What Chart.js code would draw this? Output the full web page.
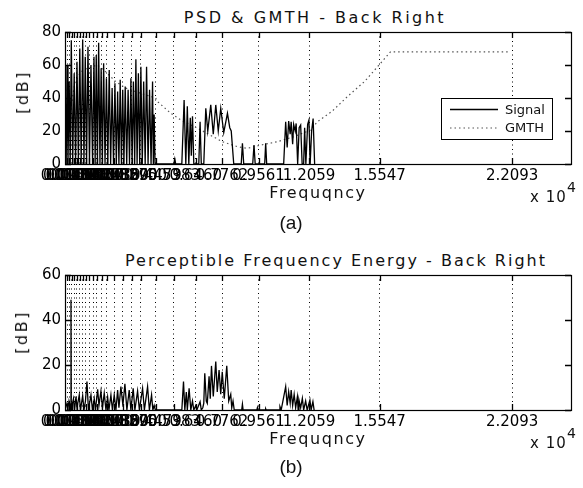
<!DOCTYPE html>
<html lang="ko">

<head>
    <meta charset="UTF-8">
    <title>PSD &amp; GMTH - Back Right</title>
    <style>
        body {
            margin: 0;
            background: #fff;
            width: 583px;
            height: 488px;
            position: relative;
            overflow: hidden;
            font-family: "DejaVu Sans", sans-serif;
            color: #111;
        }

        canvas {
            position: absolute;
            left: 0;
        }

        .txt {
            position: absolute;
            white-space: nowrap;
            line-height: 1;
        }

        .center {
            transform: translateX(-50%);
        }

        .ylab {
            transform: translate(-50%, -50%) rotate(-90deg);
            font-size: 16px;
            letter-spacing: 2.5px;
        }
    </style>
</head>

<body>
    <div class="txt center" style="left:315px; top:10px; font-size:16px; letter-spacing:2.5px;">PSD &amp; GMTH - Back Right</div>
    <canvas id="chartA" width="583" height="200" style="top:0px;"></canvas>
    <div class="txt ylab" style="left:23px; top:92px;">[dB]</div>
    <div class="txt center" style="left:318px; top:185px; font-size:16px; letter-spacing:1.6px;">Frequqncy</div>
    <div class="txt" style="left:530px; top:190px; font-size:15px; letter-spacing:1px;">x 10</div>
    <div class="txt" style="left:567px; top:180px; font-size:14px;">4</div>
    <div class="txt center" style="left:291px; top:213px; font-size:19px; font-family:'Liberation Sans', sans-serif;">(a)</div>

    <div class="txt center" style="left:336px; top:253px; font-size:16px; letter-spacing:2px;">Perceptible Frequency Energy - Back Right</div>
    <canvas id="chartB" width="583" height="200" style="top:240px;"></canvas>
    <div class="txt ylab" style="left:22px; top:332px;">[dB]</div>
    <div class="txt center" style="left:318px; top:431px; font-size:16px; letter-spacing:1.6px;">Frequqncy</div>
    <div class="txt" style="left:530px; top:436px; font-size:15px; letter-spacing:1px;">x 10</div>
    <div class="txt" style="left:567px; top:426px; font-size:14px;">4</div>
    <div class="txt center" style="left:291px; top:457px; font-size:19px; font-family:'Liberation Sans', sans-serif;">(b)</div>

    <script src="https://cdn.jsdelivr.net/npm/chart.js/dist/chart.umd.min.js"></script>
    <script>
        // band edges used as x ticks (Hz)
        const bandEdges = [100, 210, 330, 460, 590, 740, 870, 1030, 1200, 1400, 1580, 1810, 2070, 2430,
            2850, 3290, 3750, 4479, 5383, 6460, 7762, 9561, 12059, 15547, 22093];
        const yTicksA = [0, 20, 40, 60, 80];
        const yTicksB = [0, 20, 40, 60];
        const legendNames = ['Signal', 'GMTH'];

        // (a) signal PSD
        const sigAHz = [0, 25, 59, 99, 148, 207, 257, 311, 380, 454, 523, 592, 661, 730, 799, 873, 937, 1001, 1066,
            1135, 1209, 1283, 1362, 1431, 1490, 1544, 1603, 1662, 1727, 1786, 1845, 1909, 1978, 2047, 2116, 2185,
            2255, 2328, 2397, 2467, 2536, 2600, 2664, 2728, 2788, 2852, 2911, 2975, 3049, 3118, 3187, 3256, 3315,
            3379, 3443, 3502, 3562, 3626, 3690, 3749, 3818, 3887, 3961, 4030, 4104, 4178, 4252, 4326, 4366, 4405,
            4450,
            5380, 5426, 5470, 5772, 5885, 5969, 6043, 6117, 6191, 6240, 6299, 6364, 6610, 6674, 6734, 6857, 6956,
            7054, 7202, 7326, 7449, 7572, 7695, 7843, 8026, 8140, 8213, 8337, 8707, 8766, 8830, 9274, 9338, 9397,
            9866, 9915, 9965, 10804, 10903, 10977, 11051, 11125, 11174, 11248, 11297, 11372, 11421, 11495, 11569,
            11643, 11717, 11791, 11840, 11900, 11988, 12052, 12111, 12185, 12259, 12333];
        const sigADb = [0, 20, 0, 60, 0, 50, 0, 75, 0, 55, 0, 62, 0, 70, 0, 75.5, 0, 65, 0,
            71, 0, 60, 0, 65, 0, 66, 0, 73.5, 0, 58, 0, 61, 0, 52, 0, 57,
            0, 46, 0, 49, 0, 44, 0, 51, 0, 45, 0, 47, 0, 45, 0, 52, 0,
            50, 0, 63.5, 0, 55, 0, 59, 0, 50, 0, 59, 0, 45, 0, 50, 0, 30,
            0,
            0, 3, 0, 0, 38.8, 0, 35, 0, 28, 5, 29, 0, 0, 25.6, 0, 0, 33.7,
            20, 35.8, 18, 35.8, 20, 33.7, 19, 30.7, 22, 20, 0, 0, 12.5, 0, 0, 11.5, 0,
            0, 12.5, 0, 0, 25.6, 10, 26, 18, 25.6, 12, 24, 20, 24.6, 0, 22,
            23.6, 0, 0, 22, 0, 24, 26.6, 0, 20, 27.6, 0];

        // (a) global masking threshold
        const gmthHz = [100, 300, 500, 800, 1100, 1600, 2000, 2500, 3000, 3700, 4479, 4573, 5229, 5722, 6500,
            7100, 7779, 8519, 9013, 9669, 10493, 11297, 12135, 12466, 13200, 13946, 14800, 15588, 16081, 22001];
        const gmthDb = [45, 35, 50, 56, 58, 60, 56, 50, 46, 43, 40, 37.8, 30.7, 26.7, 22,
            18, 13.5, 10.5, 9.5, 11.5, 13.5, 16.5, 20.6, 25.6, 32, 40.8, 50, 61, 68, 68];

        // (b) perceptible energy
        const sigBHz = [0, 49, 99, 148, 197, 247, 285, 296, 310, 345, 419, 469, 543, 592, 705, 765, 873, 937, 1011,
            1085, 1159, 1283, 1357, 1445, 1505, 1613, 1677, 1776, 1850, 1939, 2023, 2106, 2171, 2269, 2343, 2432,
            2516, 2600, 2664, 2762, 2861, 2960, 3058, 3172, 3256, 3369, 3453, 3586, 3675, 3833, 3922, 4080, 4169,
            4277, 4341, 4405, 4464,
            5772, 5855, 5920, 5994, 6043, 6132, 6216, 6299, 6364, 6462, 6512, 6674, 6734, 6808, 6857, 6906, 6980,
            7030, 7118, 7177, 7237, 7326, 7449, 7523, 7612, 7695, 7769, 7868, 7992, 8090, 8189, 8238, 8302, 8361,
            8730, 8766, 8800, 9480, 9506, 9530, 9890, 9915, 9940,
            10580, 10621, 10681, 10903, 10977, 11051, 11125, 11174, 11248, 11322, 11396, 11480, 11520, 11560, 11643,
            11727, 11791, 11890, 11964, 12101, 12160, 12249, 12308];
        const sigBDb = [0, 0, 3, 1, 4, 2, 0, 49, 0, 2, 5, 0, 6, 1, 6.7, 0, 6.4, 0, 4,
            12.6, 0, 6.7, 0, 5, 0, 9.2, 2, 8.4, 1, 7.5, 0, 5.8, 0, 6.7, 0, 6.7,
            0, 8.9, 1, 10.4, 2, 11.6, 0, 8.9, 0, 9.6, 0, 8.4, 0, 9.6, 0, 10.4, 0,
            6.7, 0, 2, 0,
            0, 12.6, 0, 8, 0, 9.6, 0, 4, 0, 2, 0, 3.7, 0, 1, 3, 16.3, 4,
            3, 15, 5, 19.6, 6, 21.5, 8, 17.8, 7, 17, 5, 19.6, 4, 7, 1, 4, 0,
            0, 2.6, 0, 0, 1, 0, 0, 0.5, 0,
            0, 1.5, 0, 10.4, 2, 8.1, 3, 8.9, 2, 7, 1, 5.9, 0, 4.4, 1,
            5.2, 0, 4, 0, 4.4, 0, 3.7, 0];

        function toPoints(xs, ys) {
            return xs.map((x, i) => ({ x: x, y: ys[i] }));
        }

        const tickFont = { family: 'DejaVu Sans', size: 15 };

        // matlab style box, inner ticks and legend
        const boxPlugin = {
            id: 'boxPlugin',
            afterDatasetsDraw(chart, args, opts) {
                const ctx = chart.ctx;
                const a = chart.chartArea;
                const sx = chart.scales.x, sy = chart.scales.y;
                const len = 6;
                ctx.save();
                ctx.setLineDash([]);
                ctx.strokeStyle = '#000';
                ctx.lineWidth = 1.3;
                ctx.beginPath();
                sx.ticks.forEach(t => {
                    const px = Math.round(sx.getPixelForValue(t.value)) + 0.5;
                    ctx.moveTo(px, a.bottom); ctx.lineTo(px, a.bottom - len);
                    ctx.moveTo(px, a.top); ctx.lineTo(px, a.top + len);
                });
                sy.ticks.forEach(t => {
                    const py = Math.round(sy.getPixelForValue(t.value)) + 0.5;
                    ctx.moveTo(a.left, py); ctx.lineTo(a.left + len, py);
                    ctx.moveTo(a.right, py); ctx.lineTo(a.right - len, py);
                });
                ctx.stroke();
                ctx.lineWidth = 1.2;
                ctx.strokeRect(Math.round(a.left) + 0.5, Math.round(a.top) + 0.5,
                    Math.round(a.width), Math.round(a.height));

                if (opts.legend) {
                    const bx = a.right - 130, by = a.top + 66, bw = 111, bh = 41;
                    ctx.fillStyle = '#fff';
                    ctx.fillRect(bx, by, bw, bh);
                    ctx.lineWidth = 1;
                    ctx.strokeRect(bx + 0.5, by + 0.5, bw, bh);
                    chart.data.datasets.forEach((ds, i) => {
                        const y = by + 11.5 + i * 18.5;
                        ctx.strokeStyle = ds.borderColor;
                        ctx.lineWidth = ds.borderWidth;
                        ctx.setLineDash(ds.borderDash || []);
                        ctx.beginPath();
                        ctx.moveTo(bx + 9, y); ctx.lineTo(bx + 57, y);
                        ctx.stroke();
                        ctx.setLineDash([]);
                        ctx.fillStyle = '#111';
                        ctx.font = '13px "DejaVu Sans"';
                        ctx.textBaseline = 'middle';
                        ctx.textAlign = 'left';
                        ctx.fillText(ds.label, bx + 64, y + 1);
                    });
                }
                ctx.restore();
            }
        };

        function makeChart(id, datasets, yMax, yTicks, padTop, xHeight, showLegend) {
            return new Chart(document.getElementById(id), {
                type: 'scatter',
                data: { datasets: datasets },
                plugins: [boxPlugin],
                options: {
                    responsive: false,
                    animation: false,
                    layout: { padding: { left: 0, right: 12, top: padTop, bottom: 0 } },
                    plugins: {
                        legend: { display: false },
                        tooltip: { enabled: false },
                        boxPlugin: { legend: showLegend }
                    },
                    scales: {
                        x: {
                            type: 'linear',
                            min: 0,
                            max: 25000,
                            afterBuildTicks: (s) => { s.ticks = bandEdges.map(v => ({ value: v })); },
                            afterFit: (s) => { s.height = xHeight; },
                            ticks: {
                                autoSkip: false,
                                maxRotation: 0,
                                minRotation: 0,
                                padding: 3,
                                color: '#000',
                                font: tickFont,
                                callback: (v) => (v / 1e4).toFixed(4)
                            },
                            grid: { color: '#000', lineWidth: 1, drawTicks: false },
                            border: { display: false, dash: [1, 3.5] }
                        },
                        y: {
                            min: 0,
                            max: yMax,
                            afterBuildTicks: (s) => { s.ticks = yTicks.map(v => ({ value: v })); },
                            afterFit: (s) => { s.width = 65; },
                            ticks: { padding: 4, color: '#000', font: tickFont },
                            grid: { display: false, drawTicks: false },
                            border: { display: false }
                        }
                    }
                }
            });
        }

        let graficoA = makeChart('chartA', [
            {
                label: legendNames[0],
                data: toPoints(sigAHz, sigADb),
                showLine: true,
                borderColor: '#000',
                borderWidth: 1.3,
                pointRadius: 0,
                tension: 0
            },
            {
                label: legendNames[1],
                data: toPoints(gmthHz, gmthDb),
                showLine: true,
                borderColor: '#555',
                borderWidth: 1.2,
                borderDash: [1.5, 3],
                pointRadius: 0,
                tension: 0
            }
        ], 80, yTicksA, 32, 36, true);

        let graficoB = makeChart('chartB', [
            {
                label: legendNames[0],
                data: toPoints(sigBHz, sigBDb),
                showLine: true,
                borderColor: '#000',
                borderWidth: 1.3,
                pointRadius: 0,
                tension: 0
            }
        ], 60, yTicksB, 35, 30, false);
    </script>
</body>

</html>
